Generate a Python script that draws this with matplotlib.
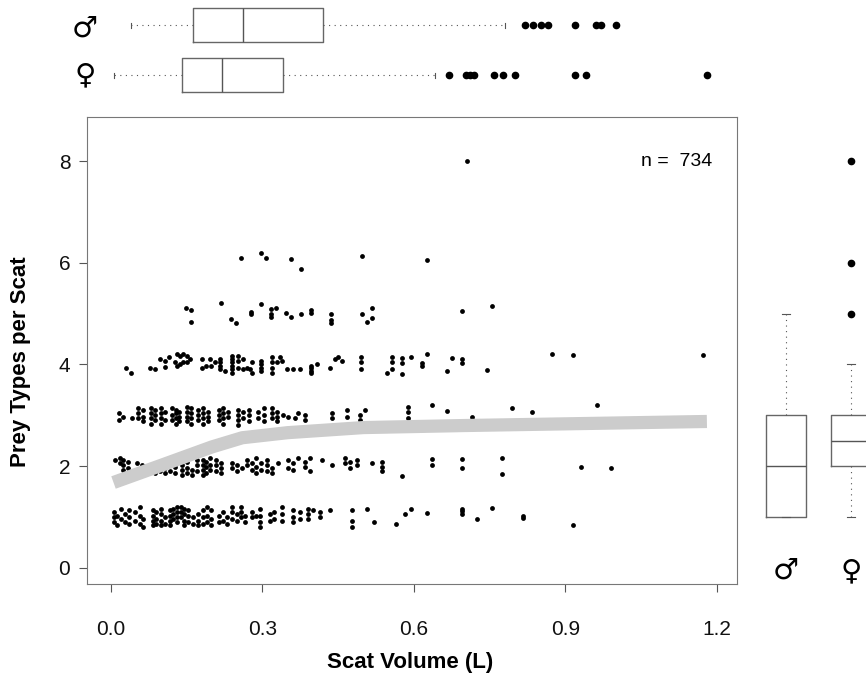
"""Prey types per scat against scat volume, with sex boxplots in the margins."""

import matplotlib
matplotlib.use('Agg')
import matplotlib.pyplot as plt

# scatter columns per prey-type level: (scat volume, [jittered prey counts])
level1 = [
    (0.005, [1.10, 1.00, 0.90]), (0.011, [1.03, 0.84]), (0.019, [1.16, 0.97]),
    (0.028, [1.07, 0.90]), (0.036, [1.13, 1.00, 0.87]), (0.048, [1.10, 0.93]),
    (0.057, [1.20, 1.03, 0.87]), (0.064, [0.97, 0.80]),
    (0.083, [1.13, 1.03, 0.93, 0.84]), (0.090, [1.10, 0.97, 0.87]),
    (0.100, [1.16, 1.07, 0.93, 0.84]), (0.107, [1.00, 0.87]),
    (0.116, [1.13, 1.03, 0.93, 0.84]), (0.122, [1.16, 1.07, 0.97]),
    (0.130, [1.20, 1.10, 1.00, 0.90]), (0.138, [1.20, 1.10, 1.00]),
    (0.145, [1.16, 1.07, 0.93, 0.84]), (0.153, [1.13, 1.03, 0.90]),
    (0.163, [1.00, 0.87]), (0.173, [1.07, 0.93, 0.84]),
    (0.183, [1.13, 1.00, 0.87]), (0.191, [1.20, 1.03, 0.90]),
    (0.199, [1.13, 0.97, 0.84]), (0.213, [1.03, 0.90]), (0.221, [1.10, 0.93]),
    (0.230, [1.00, 0.87]), (0.239, [1.20, 1.10, 0.97]), (0.249, [1.07, 0.93]),
    (0.257, [1.20, 1.10, 1.00]), (0.265, [1.03, 0.90]), (0.279, [1.10, 1.00]),
    (0.288, [1.03]), (0.296, [1.16, 1.03, 0.90, 0.80]), (0.315, [1.07, 0.93]),
    (0.323, [1.10, 0.97]), (0.338, [1.20, 1.07, 0.93]),
    (0.361, [1.13, 1.00, 0.90]), (0.374, [1.10, 0.97]),
    (0.391, [1.16, 1.07, 0.97]), (0.401, [1.13]), (0.414, [1.10, 1.00]),
    (0.434, [1.13]), (0.477, [1.13, 0.93, 0.80]), (0.506, [1.16]),
    (0.520, [0.90]), (0.564, [0.87]), (0.582, [1.07]), (0.595, [1.16]),
    (0.625, [1.08]), (0.695, [1.16, 1.12, 1.07]), (0.725, [0.97]),
    (0.754, [1.18]), (0.815, [1.03, 0.98]), (0.914, [0.84]),
]
level2 = [
    (0.008, [2.13]), (0.017, [2.16, 2.06]), (0.024, [2.13, 2.03, 1.93]),
    (0.034, [2.09, 1.96]), (0.051, [2.06, 1.93]), (0.061, [2.03, 1.90]),
    (0.074, [1.99, 1.90]), (0.087, [1.96, 1.86]), (0.097, [1.99, 1.90]),
    (0.107, [1.96, 1.86]), (0.117, [2.03, 1.90]), (0.127, [1.99, 1.86]),
    (0.140, [2.13, 2.03, 1.93, 1.83]), (0.150, [2.09, 1.96, 1.86]),
    (0.160, [1.93, 1.83]), (0.171, [2.13, 2.03, 1.90]),
    (0.182, [2.13, 2.03, 1.93, 1.83]), (0.189, [2.09, 1.99, 1.86]),
    (0.197, [2.16, 2.03, 1.93]), (0.208, [2.13, 2.03, 1.90]),
    (0.217, [2.06, 1.96, 1.86]), (0.239, [2.06, 1.96]), (0.249, [2.03, 1.90]),
    (0.259, [1.96]), (0.269, [2.13, 2.03]), (0.279, [2.06, 1.93]),
    (0.287, [2.16, 1.99, 1.86]), (0.298, [2.06, 1.93]),
    (0.308, [2.13, 2.03, 1.90]), (0.318, [1.96, 1.86]), (0.331, [2.06]),
    (0.351, [2.13, 1.96]), (0.361, [2.06, 1.93]), (0.371, [2.16]),
    (0.384, [2.09, 1.99]), (0.394, [2.16, 1.90]), (0.417, [2.13]),
    (0.437, [2.03]), (0.463, [2.16, 2.06]), (0.473, [2.09, 1.96]),
    (0.487, [2.13, 2.03]), (0.516, [2.06]), (0.536, [2.09, 1.99, 1.90]),
    (0.576, [1.80]), (0.635, [2.15, 2.03]), (0.695, [2.15, 1.97]),
    (0.775, [2.17, 1.84]), (0.930, [1.99]), (0.990, [1.96]),
]
level3 = [
    (0.015, [3.04, 2.91]), (0.024, [2.97]), (0.041, [2.94]),
    (0.054, [3.14, 3.04, 2.94]), (0.063, [3.10, 2.97, 2.88]),
    (0.079, [3.14, 3.04, 2.94, 2.84]), (0.087, [3.10, 3.01, 2.91]),
    (0.100, [3.14, 3.04, 2.94, 2.84]), (0.107, [3.07, 2.91]),
    (0.120, [3.14, 3.01, 2.91]), (0.129, [3.10, 3.04, 2.94, 2.84]),
    (0.135, [3.07, 2.97, 2.88]), (0.150, [3.17, 3.07, 2.97, 2.88]),
    (0.158, [3.14, 3.04, 2.94, 2.84]), (0.173, [3.10, 3.01, 2.91]),
    (0.182, [3.14, 3.04, 2.94, 2.84]), (0.193, [3.07, 2.97, 2.88]),
    (0.213, [3.10, 3.01, 2.91]), (0.222, [3.14, 3.04, 2.94, 2.84]),
    (0.232, [3.07, 2.97]), (0.252, [3.10, 3.01, 2.91, 2.81]),
    (0.262, [3.07, 2.94]), (0.274, [3.10, 3.01, 2.88]), (0.292, [3.07, 2.94]),
    (0.302, [3.14, 3.01, 2.88]), (0.318, [3.14, 3.04, 2.94]),
    (0.328, [3.07, 2.97, 2.88]), (0.340, [3.01]), (0.351, [2.97]),
    (0.364, [2.94]), (0.371, [3.04]), (0.384, [3.01, 2.91]),
    (0.437, [3.04, 2.94]), (0.467, [3.10, 2.97]), (0.493, [3.01, 2.91]),
    (0.503, [3.10]), (0.589, [3.17, 3.07, 2.94]), (0.635, [3.20]),
    (0.665, [3.09]), (0.715, [2.97]), (0.794, [3.15]), (0.834, [3.06]),
    (0.963, [3.20]),
]
level4 = [
    (0.030, [3.94]), (0.039, [3.84]), (0.077, [3.94]), (0.087, [3.91]),
    (0.097, [4.10]), (0.107, [4.07, 3.95]), (0.114, [4.14]), (0.127, [4.04]),
    (0.130, [4.20, 3.97]), (0.137, [4.17, 4.01]), (0.143, [4.20, 4.04]),
    (0.150, [4.17, 4.04]), (0.156, [4.10]), (0.180, [4.10, 3.94]),
    (0.189, [3.97]), (0.196, [4.10]), (0.199, [3.97]), (0.206, [4.04]),
    (0.216, [4.10, 4.04, 3.97, 3.91]), (0.226, [3.88]),
    (0.239, [4.17, 4.10, 4.04, 3.97, 3.91, 3.84]), (0.252, [4.17, 4.07, 3.94]),
    (0.262, [4.10, 3.91]), (0.269, [3.94]), (0.275, [3.91]),
    (0.279, [4.04, 3.84]), (0.298, [4.07, 4.01, 3.94, 3.88]),
    (0.318, [4.14, 4.04, 3.94, 3.84]), (0.328, [4.04]), (0.335, [4.14]),
    (0.338, [4.07]), (0.348, [3.91]), (0.361, [3.91]), (0.374, [3.91]),
    (0.397, [3.97, 3.94, 3.88, 3.84]), (0.407, [4.01]), (0.434, [3.94]),
    (0.444, [4.10]), (0.450, [4.14]), (0.457, [4.07]),
    (0.496, [4.14, 4.04, 3.91]), (0.546, [3.84]), (0.556, [4.14, 4.04, 3.91]),
    (0.576, [4.12, 4.02, 3.82]), (0.595, [4.14]), (0.615, [4.03, 3.97]),
    (0.625, [4.21]), (0.665, [3.88]), (0.675, [4.13]), (0.695, [4.10, 4.03]),
    (0.745, [3.89]), (0.874, [4.20]), (0.914, [4.18]), (1.173, [4.18]),
]
level5 = [
    (0.149, [5.11]), (0.159, [5.08, 4.84]), (0.218, [5.20]), (0.238, [4.90]),
    (0.248, [4.82]), (0.277, [5.03, 4.99]), (0.297, [5.18]),
    (0.317, [5.10, 4.99, 4.93]), (0.327, [5.11]), (0.347, [5.02]),
    (0.357, [4.93]), (0.376, [4.99]), (0.396, [5.08, 5.02]),
    (0.436, [5.00, 4.88, 4.82]), (0.497, [4.99]), (0.507, [4.84]),
    (0.516, [5.11, 4.92]), (0.695, [5.05]), (0.754, [5.15]),
]
level6 = [
    (0.257, [6.10]), (0.297, [6.19]), (0.307, [6.10]), (0.357, [6.08]),
    (0.377, [5.87]), (0.497, [6.13]), (0.625, [6.05]),
]
level8 = [(0.704, [8.00])]

# lowess smooth
smooth_x = [0.005, 0.10, 0.20, 0.26, 0.35, 0.50, 0.70, 1.00, 1.18]
smooth_y = [1.68, 2.02, 2.38, 2.56, 2.66, 2.76, 2.80, 2.85, 2.88]

# scat volume by sex (top margin)
vol_male = dict(whislo=0.039, q1=0.162, med=0.261, q3=0.420, whishi=0.781,
                fliers=[0.820, 0.836, 0.851, 0.865, 0.919, 0.960, 0.970, 1.000])
vol_female = dict(whislo=0.006, q1=0.140, med=0.220, q3=0.341, whishi=0.642,
                  fliers=[0.669, 0.702, 0.710, 0.719, 0.759, 0.776, 0.800,
                          0.919, 0.941, 1.180])

# prey types by sex (right margin)
prey_male = dict(whislo=1, q1=1, med=2, q3=3, whishi=5, fliers=[])
prey_female = dict(whislo=1, q1=2, med=2.5, q3=3, whishi=4, fliers=[5, 6, 8])

W, H = 866, 675
fig = plt.figure(figsize=(W / 100, H / 100), dpi=100)

ax = fig.add_axes([87 / W, 1 - 584 / H, 650 / W, 467 / H])
ax_top = fig.add_axes([87 / W, 1 - 100 / H, 650 / W, 100 / H], sharex=ax)
ax_right = fig.add_axes([745 / W, 1 - 584 / H, 121 / W, 467 / H], sharey=ax)

xs, ys = [], []
for level in [level1, level2, level3, level4, level5, level6, level8]:
    for x, col in level:
        for y in col:
            xs.append(x)
            ys.append(y)
ax.scatter(xs, ys, s=12, c='black', linewidths=0, zorder=2)
ax.plot(smooth_x, smooth_y, color='#cccccc', lw=9.5, solid_capstyle='butt',
        zorder=3)

ax.set_xlim(-0.0475, 1.2396)
ax.set_ylim(-0.315, 8.865)
ax.set_xticks([0.0, 0.3, 0.6, 0.9, 1.2])
ax.set_xticklabels(['0.0', '0.3', '0.6', '0.9', '1.2'])
ax.set_yticks([0, 2, 4, 6, 8])
for s in ax.spines.values():
    s.set_color('#777777')
ax.tick_params(colors='#555555', labelcolor='#111111', labelsize=15,
               length=6, width=0.8)
ax.tick_params(axis='x', pad=20)
ax.tick_params(axis='y', pad=6)
for lab in ax.get_xticklabels() + ax.get_yticklabels():
    lab.set_family('Liberation Sans')

label_font = dict(family=['Liberation Sans Narrow', 'Liberation Sans'],
                  weight='bold', size=16)
ax.set_xlabel('Scat Volume (L)', va='center', **label_font)
ax.xaxis.set_label_coords(0.497, -0.169)
ax.set_ylabel('Prey Types per Scat', va='center', **label_font)
ax.yaxis.set_label_coords(-0.102, 0.475)
ax.text(1.19, 8.0, 'n =  734', ha='right', va='center', fontsize=14,
        family='Liberation Sans')

box_style = dict(
    boxprops=dict(color='#666666', lw=1),
    medianprops=dict(color='#555555', lw=1),
    whiskerprops=dict(color='#555555', lw=0.8, linestyle=(0, (1, 4))),
    capprops=dict(color='#555555', lw=0.8),
    flierprops=dict(marker='o', markerfacecolor='black',
                    markeredgecolor='black', markersize=4.5),
    showfliers=True,
)

ax_top.bxp([vol_female, vol_male], positions=[1, 2], widths=0.68,
           capwidths=0.1, vert=False, **box_style)
ax_top.set_ylim(0.5, 2.5)
ax_top.axis('off')

ax_right.bxp([prey_male, prey_female], positions=[1, 2], widths=0.615,
             capwidths=0.12, **box_style)
ax_right.set_xlim(0.369, 2.23)
ax_right.axis('off')

sym = dict(family='DejaVu Sans', fontsize=21, ha='center', va='center')
fig.text(85 / W, 1 - 29 / H, '♂', **sym)
fig.text(85 / W, 1 - 75 / H, '♀', **sym)
fig.text(786 / W, 1 - 571 / H, '♂', **sym)
fig.text(851 / W, 1 - 571 / H, '♀', **sym)

fig.savefig('out.png', dpi=100)
